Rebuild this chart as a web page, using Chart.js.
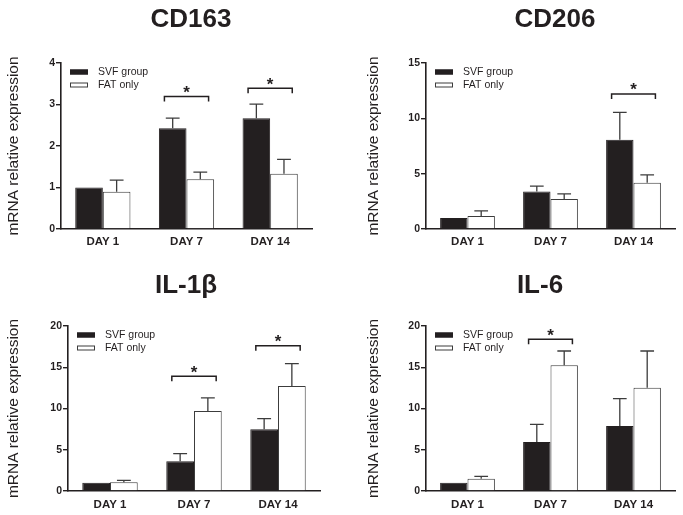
<!DOCTYPE html>
<html>
<head>
<meta charset="utf-8">
<script src="https://cdn.jsdelivr.net/npm/chart.js@4/dist/chart.umd.min.js"></script>
<style>
  body { margin: 0; background: #fff; }
  #wrap { position: relative; width: 683px; height: 515px; }
  .panel { position: absolute; }
</style>
</head>
<body>
<div id="wrap">
  <div class="panel" style="left:0;top:0;width:340px;height:260px"><canvas id="c1"></canvas></div>
  <div class="panel" style="left:340px;top:0;width:343px;height:260px"><canvas id="c2"></canvas></div>
  <div class="panel" style="left:0;top:260px;width:340px;height:255px"><canvas id="c3"></canvas></div>
  <div class="panel" style="left:340px;top:260px;width:343px;height:255px"><canvas id="c4"></canvas></div>
</div>
<script>
// data (mean, upper error = SD)
var days = ['DAY 1', 'DAY 7', 'DAY 14'];
var seriesNames = ['SVF group', 'FAT only'];

var cd163Svf = [1.0, 2.43, 2.67];
var cd163SvfErr = [0, 0.24, 0.34];
var cd163Fat = [0.90, 1.20, 1.33];
var cd163FatErr = [0.28, 0.17, 0.35];
var cd163Star = [null, 3.19, 3.39];
var cd163Ticks = [0, 1, 2, 3, 4];

var cd206Svf = [1.0, 3.38, 8.06];
var cd206SvfErr = [0, 0.50, 2.47];
var cd206Fat = [1.18, 2.72, 4.17];
var cd206FatErr = [0.45, 0.45, 0.72];
var cd206Star = [null, null, 12.2];
var cd206Ticks = [0, 5, 10, 15];

var il1bSvf = [1.0, 3.6, 7.47];
var il1bSvfErr = [0, 0.93, 1.30];
var il1bFat = [1.05, 9.7, 12.73];
var il1bFatErr = [0.24, 1.60, 2.70];
var il1bStar = [null, 13.9, 17.6];
var il1bTicks = [0, 5, 10, 15, 20];

var il6Svf = [1.0, 5.94, 7.88];
var il6SvfErr = [0, 2.14, 3.31];
var il6Fat = [1.5, 15.23, 12.53];
var il6FatErr = [0.28, 1.74, 4.44];
var il6Star = [null, 18.4, null];
var il6Ticks = [0, 5, 10, 15, 20];

var ink = '#231f20';
var grey = '#3c3c3c';
var fam = '"Liberation Sans", Arial, Helvetica, sans-serif';

// upward error bars on each bar
var errorBars = {
  id: 'errorBars',
  afterDatasetsDraw: function (chart) {
    var ctx = chart.ctx, y = chart.scales.y;
    ctx.save();
    ctx.lineWidth = 1.3;
    ctx.strokeStyle = grey;
    chart.data.datasets.forEach(function (ds, i) {
      chart.getDatasetMeta(i).data.forEach(function (bar, j) {
        var err = ds.errors[j];
        if (!err) return;
        var yTop = y.getPixelForValue(ds.data[j] + err);
        var half = bar.width * 0.25;
        ctx.beginPath();
        ctx.moveTo(bar.x, bar.y);
        ctx.lineTo(bar.x, yTop);
        ctx.moveTo(bar.x - half, yTop);
        ctx.lineTo(bar.x + half, yTop);
        ctx.stroke();
      });
    });
    ctx.restore();
  }
};

// significance brackets with a star
var sigMarks = {
  id: 'sigMarks',
  afterDatasetsDraw: function (chart, args, opts) {
    var ctx = chart.ctx, x = chart.scales.x, y = chart.scales.y;
    var bw = chart.getDatasetMeta(0).data[0].width;
    ctx.save();
    ctx.strokeStyle = ink;
    ctx.fillStyle = ink;
    ctx.lineWidth = 1.5;
    ctx.font = 'bold 17px ' + fam;
    ctx.textAlign = 'center';
    opts.values.forEach(function (v, j) {
      if (v == null) return;
      var cx = x.getPixelForValue(j), yy = y.getPixelForValue(v);
      var half = bw * 0.8;
      ctx.beginPath();
      ctx.moveTo(cx - half, yy + 5);
      ctx.lineTo(cx - half, yy);
      ctx.lineTo(cx + half, yy);
      ctx.lineTo(cx + half, yy + 5);
      ctx.stroke();
      var m = ctx.measureText('*');
      var cy = yy - 7;
      ctx.fillText('*', cx, cy + (m.actualBoundingBoxAscent - m.actualBoundingBoxDescent) / 2);
    });
    ctx.restore();
  }
};

// small legend inside the plot, top-left
var boxLegend = {
  id: 'boxLegend',
  afterDraw: function (chart) {
    var ctx = chart.ctx, a = chart.chartArea;
    ctx.save();
    ctx.font = '10.5px ' + fam;
    ctx.textBaseline = 'middle';
    chart.data.datasets.forEach(function (ds, i) {
      var bx = a.left + 9, by = a.top + 6.5 + i * 13;
      ctx.fillStyle = ds.backgroundColor;
      ctx.fillRect(bx, by, 18, 5);
      ctx.lineWidth = 1;
      ctx.strokeStyle = i === 0 ? ink : grey;
      ctx.strokeRect(bx + 0.5, by + 0.5, 17, 4);
      ctx.fillStyle = ink;
      ctx.fillText(ds.label, bx + 28, by + 3);
    });
    ctx.restore();
  }
};

var panelTitle = {
  id: 'panelTitle',
  afterDraw: function (chart, args, opts) {
    var ctx = chart.ctx;
    ctx.save();
    ctx.font = 'bold 26px ' + fam;
    ctx.fillStyle = ink;
    ctx.textAlign = 'center';
    ctx.fillText(opts.text, opts.x, opts.y);
    ctx.restore();
  }
};

function makePanel(id, title, svf, svfErr, fat, fatErr, star, ticks, box) {
  var W = box.w, H = box.h, area = box.area;
  new Chart(document.getElementById(id), {
    type: 'bar',
    data: {
      labels: days,
      datasets: [
        { label: seriesNames[0], data: svf, errors: svfErr, backgroundColor: ink,
          borderColor: ink, borderWidth: 1 },
        { label: seriesNames[1], data: fat, errors: fatErr, backgroundColor: '#ffffff',
          borderColor: grey, borderWidth: 1 }
      ]
    },
    options: {
      responsive: true,
      maintainAspectRatio: false,
      animation: false,
      events: [],
      datasets: { bar: { categoryPercentage: 0.66, barPercentage: 1.0 } },
      layout: { padding: { top: area.t, right: W - area.r, bottom: 0, left: 0 } },
      plugins: {
        legend: { display: false },
        tooltip: { enabled: false },
        title: { display: false },
        sigMarks: { values: star },
        panelTitle: { text: title, x: box.tx, y: box.ty }
      },
      scales: {
        x: {
          offset: true,
          grid: { display: false, drawTicks: false },
          border: { display: true, color: ink, width: 1.6 },
          ticks: { color: ink, padding: box.xp, font: { family: fam, size: 11.5, weight: 'bold' } },
          afterFit: function (s) { s.height = H - area.b; }
        },
        y: {
          min: ticks[0],
          max: ticks[ticks.length - 1],
          ticks: { stepSize: ticks[1] - ticks[0], color: ink, padding: 1,
                   font: { family: fam, size: 10.5, weight: 'bold' } },
          grid: { drawOnChartArea: false, drawTicks: true, tickLength: 5, color: ink, lineWidth: 1.4 },
          border: { display: true, color: ink, width: 1.6 },
          title: { display: true, text: 'mRNA relative expression', color: ink,
                   padding: { top: box.lp, bottom: 0 },
                   font: { family: fam, size: 15.5, weight: 'normal' } },
          afterFit: function (s) { s.width = area.l; }
        }
      }
    },
    plugins: [errorBars, sigMarks, boxLegend, panelTitle]
  });
}

makePanel('c1', 'CD163', cd163Svf, cd163SvfErr, cd163Fat, cd163FatErr, cd163Star, cd163Ticks,
  { w: 340, h: 260, area: { l: 61, t: 63, r: 312, b: 229 }, tx: 191, ty: 27, lp: 4, xp: 6 });
makePanel('c2', 'CD206', cd206Svf, cd206SvfErr, cd206Fat, cd206FatErr, cd206Star, cd206Ticks,
  { w: 343, h: 260, area: { l: 86, t: 63, r: 335, b: 229 }, tx: 215, ty: 27, lp: 24, xp: 6 });
makePanel('c3', 'IL-1\u03b2', il1bSvf, il1bSvfErr, il1bFat, il1bFatErr, il1bStar, il1bTicks,
  { w: 340, h: 255, area: { l: 68, t: 66, r: 320, b: 231 }, tx: 186, ty: 33, lp: 4, xp: 7 });
makePanel('c4', 'IL-6', il6Svf, il6SvfErr, il6Fat, il6FatErr, il6Star, il6Ticks,
  { w: 343, h: 255, area: { l: 86, t: 66, r: 335, b: 231 }, tx: 200, ty: 33, lp: 24, xp: 7 });
</script>
</body>
</html>
